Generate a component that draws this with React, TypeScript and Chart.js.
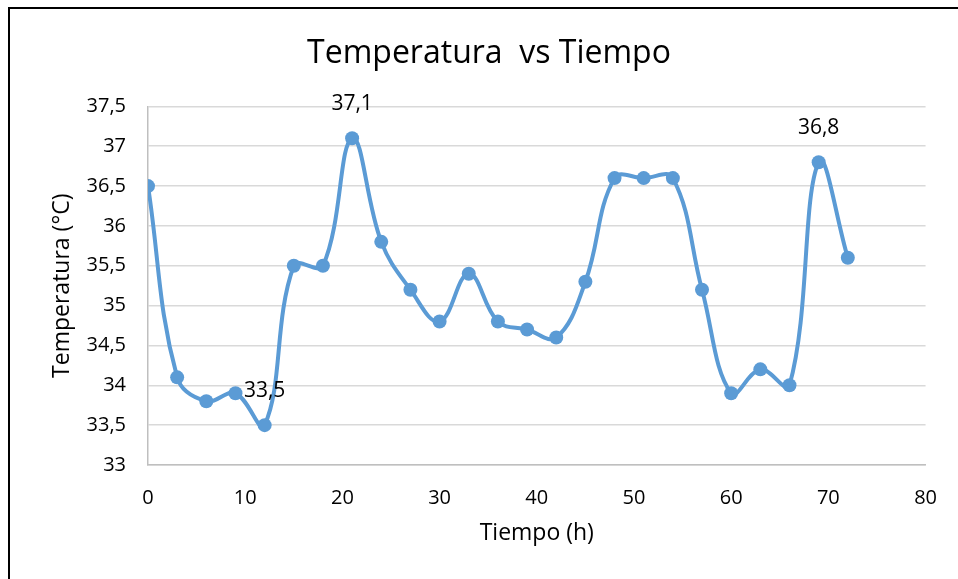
import React, { useEffect, useRef } from "react";
import { Chart, registerables } from "chart.js";

Chart.register(...registerables);

const hours = [0, 3, 6, 9, 12, 15, 18, 21, 24, 27, 30, 33, 36, 39, 42, 45, 48, 51, 54, 57, 60, 63, 66, 69, 72];
const temperatures = [36.5, 34.1, 33.8, 33.9, 33.5, 35.5, 35.5, 37.1, 35.8, 35.2, 34.8, 35.4, 34.8, 34.7, 34.6, 35.3, 36.6, 36.6, 36.6, 35.2, 33.9, 34.2, 34.0, 36.8, 35.6];
const labeledIndices = [4, 7, 23];
const chartTitle = "Temperatura  vs Tiempo";
const xTitle = "Tiempo (h)";
const yTitle = "Temperatura (°C)";

const FONT = "'Open Sans', sans-serif";
const BLUE = "#5B9BD5";

const fmt = (v: number) => String(v).replace(".", ",");

const frameAndLabels = {
  id: "frameAndLabels",
  beforeDraw(chart: any) {
    const ctx = chart.ctx;
    ctx.save();
    ctx.fillStyle = "#ffffff";
    ctx.fillRect(0, 0, chart.width, chart.height);
    ctx.strokeStyle = "#000000";
    ctx.lineWidth = 2;
    ctx.strokeRect(9, 8, chart.width + 50, chart.height + 50);
    ctx.restore();
  },
  afterDraw(chart: any) {
    const ctx = chart.ctx;
    ctx.save();
    ctx.font = `32px ${FONT}`;
    ctx.fillStyle = "#000000";
    ctx.textAlign = "center";
    ctx.textBaseline = "alphabetic";
    ctx.fillText(chartTitle, 489, 63);
    ctx.restore();
  },
  afterDatasetsDraw(chart: any) {
    const ctx = chart.ctx;
    const meta = chart.getDatasetMeta(0);
    ctx.save();
    ctx.font = `21px ${FONT}`;
    ctx.fillStyle = "#000000";
    ctx.textAlign = "center";
    ctx.textBaseline = "middle";
    labeledIndices.forEach((i) => {
      const el = meta.data[i];
      if (!el) return;
      ctx.fillText(fmt(temperatures[i]), el.x, el.y - 34);
    });
    ctx.restore();
  },
};

export default function App() {
  const ref = useRef<HTMLCanvasElement | null>(null);
  useEffect(() => {
    if (!ref.current) return;
    const chart = new Chart(ref.current, {
      type: "line",
      data: {
        datasets: [
          {
            data: hours.map((h, i) => ({ x: h, y: temperatures[i] })),
            borderColor: BLUE,
            backgroundColor: BLUE,
            borderWidth: 4,
            pointRadius: 7,
            pointBorderWidth: 0,
            pointBackgroundColor: BLUE,
            tension: 0.4,
          },
        ],
      },
      options: {
        animation: false,
        responsive: false,
        devicePixelRatio: 1,
        layout: { padding: { left: 0, right: 30, top: 0, bottom: 0 } },
        plugins: {
          legend: { display: false },
          tooltip: { enabled: false },
          title: {
            display: true,
            text: chartTitle,
            color: "rgba(0,0,0,0)",
            font: { family: FONT, size: 32, weight: "normal" },
            padding: { top: 32, bottom: 36 },
          },
        },
        scales: {
          x: {
            type: "linear",
            min: 0,
            max: 80,
            ticks: {
              stepSize: 10,
              color: "#000000",
              font: { family: FONT, size: 20 },
              padding: 21,
              maxRotation: 0,
            },
            grid: { display: false, drawTicks: false },
            border: { display: true, color: "#bfbfbf", width: 1.5 },
            title: {
              display: true,
              text: xTitle,
              color: "#000000",
              font: { family: FONT, size: 23 },
              padding: { top: 0, bottom: 32 },
            },
            afterFit: (s: any) => {
              s.height = 114;
            },
          },
          y: {
            min: 33,
            max: 37.5,
            ticks: {
              stepSize: 0.5,
              color: "#000000",
              font: { family: FONT, size: 20 },
              padding: 22,
              callback: (v: any) => fmt(Number(v)),
            },
            grid: { color: "#d9d9d9", lineWidth: 1.5, drawTicks: false },
            border: { display: true, color: "#bfbfbf", width: 1.5 },
            title: {
              display: true,
              text: yTitle,
              color: "#000000",
              font: { family: FONT, size: 23 },
              padding: { top: 49, bottom: 0 },
            },
            afterFit: (s: any) => {
              s.width = 148;
            },
          },
        },
      },
      plugins: [frameAndLabels],
    });
    return () => chart.destroy();
  }, []);
  return (
    <div style={{ position: "fixed", left: 0, top: 0, width: 958, height: 579 }}>
      <canvas ref={ref} width={958} height={579} style={{ display: "block", width: 958, height: 579 }} />
    </div>
  );
}
